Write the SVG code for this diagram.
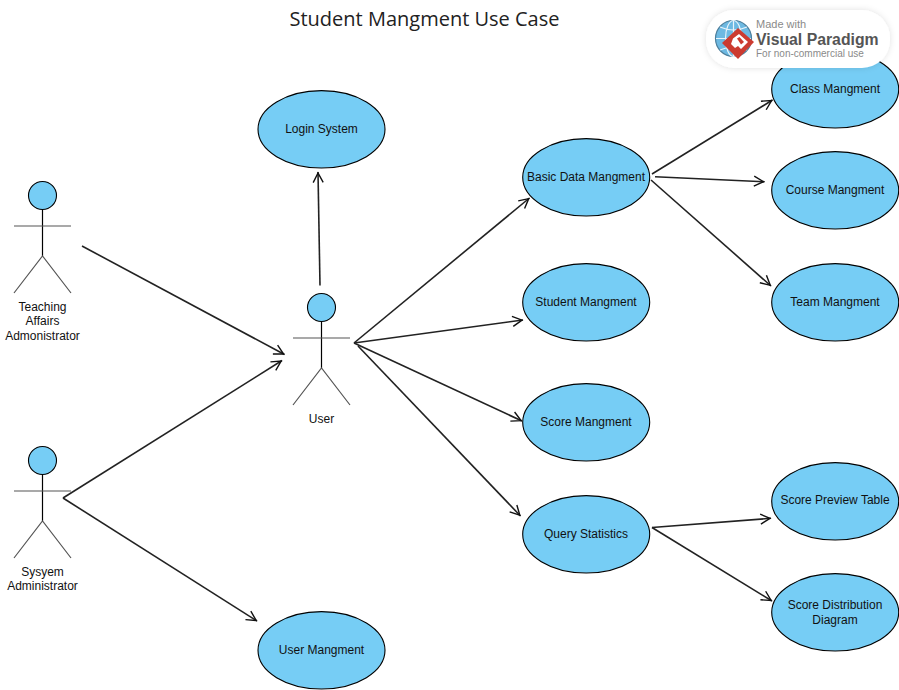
<svg xmlns="http://www.w3.org/2000/svg" width="899" height="690" viewBox="0 0 899 690">
<style>
text{font-family:"Liberation Sans",Arial,sans-serif;font-size:12px;fill:#111;text-anchor:middle}
.uc{fill:#76cdf5;stroke:#000;stroke-width:1.1}
.head{fill:#76cdf5;stroke:#000;stroke-width:1.1}
.blk{stroke:#000;stroke-width:1.2;fill:none}
.gry{stroke:#555;stroke-width:1.2;fill:none}
.c{stroke:#222;stroke-width:1.6;fill:none;marker-end:url(#a)}
.title{font-family:"Open Sans","Noto Sans",sans-serif;font-size:20px;fill:#222}
.lg{fill:#8a8a8a;text-anchor:start}
</style>
<defs>
<marker id="a" markerUnits="userSpaceOnUse" markerWidth="16" markerHeight="16" refX="13" refY="8" orient="auto"><path d="M2.500 3L12 8L2.500 13" fill="none" stroke="#111" stroke-width="1.400"/></marker>
<filter id="s" x="-10%" y="-30%" width="120%" height="160%"><feDropShadow dx="0" dy="0" stdDeviation="3" flood-color="#000" flood-opacity="0.12"/></filter>
</defs>
<rect width="899" height="690" fill="#fff"/>
<text class="title" x="424.500" y="26">Student Mangment Use Case</text>
<g id="connectors">
<path class="c" d="M82 246L284.500 354.500"/>
<path class="c" d="M63 498L282 360.500"/>
<path class="c" d="M63 498L257 621"/>
<path class="c" d="M320 285.500L318 172"/>
<path class="c" d="M354 343L529.500 198"/>
<path class="c" d="M354 343L523 320"/>
<path class="c" d="M354 343L522 421"/>
<path class="c" d="M358 346L520.500 516"/>
<path class="c" d="M652 174L772.500 100"/>
<path class="c" d="M655 176.700L764.500 181.700"/>
<path class="c" d="M651 180L771 286"/>
<path class="c" d="M652 527.500L771 518.300"/>
<path class="c" d="M652 527.500L772 601"/>
</g>
<g id="actor-teaching"><circle class="head" cx="42.500" cy="195.500" r="14"/><path class="blk" d="M42.500 209.500V256"/><path class="gry" d="M14 226H71M14 293L42.500 256L71 293"/><text x="42.500" y="311">Teaching</text><text x="42.500" y="325">Affairs</text><text x="42.500" y="340">Admonistrator</text></g>
<g id="actor-system"><circle class="head" cx="42.500" cy="460.500" r="14"/><path class="blk" d="M42.500 474.500V521"/><path class="gry" d="M14 491H71M14 558L42.500 521L71 558"/><text x="42.500" y="576">Sysyem</text><text x="42.500" y="590">Administrator</text></g>
<g id="actor-user"><circle class="head" cx="321.500" cy="307.500" r="14"/><path class="blk" d="M321.500 321.500V368"/><path class="gry" d="M293 338H350M293 405L321.500 368L350 405"/><text x="321.500" y="423">User</text></g>
<g id="login"><ellipse class="uc" cx="321.500" cy="129.300" rx="63.500" ry="38.700"/><text x="321.500" y="133">Login System</text></g>
<g id="user-mangment"><ellipse class="uc" cx="321.500" cy="650.300" rx="63.500" ry="38.700"/><text x="321.500" y="654">User Mangment</text></g>
<g id="basic"><ellipse class="uc" cx="586.200" cy="177.300" rx="63.500" ry="38.700"/><text x="586" y="181">Basic Data Mangment</text></g>
<g id="student"><ellipse class="uc" cx="586.200" cy="302.300" rx="63.500" ry="38.700"/><text x="586" y="306">Student Mangment</text></g>
<g id="score"><ellipse class="uc" cx="586.200" cy="422.300" rx="63.500" ry="38.700"/><text x="586" y="426">Score Mangment</text></g>
<g id="query"><ellipse class="uc" cx="586.200" cy="534.300" rx="63.500" ry="38.700"/><text x="586" y="538">Query Statistics</text></g>
<g id="class"><ellipse class="uc" cx="835.200" cy="89.300" rx="63.500" ry="38.700"/><text x="835" y="93">Class Mangment</text></g>
<g id="course"><ellipse class="uc" cx="835.200" cy="190.300" rx="63.500" ry="38.700"/><text x="835" y="194">Course Mangment</text></g>
<g id="team"><ellipse class="uc" cx="835.200" cy="302.300" rx="63.500" ry="38.700"/><text x="835" y="306">Team Mangment</text></g>
<g id="preview"><ellipse class="uc" cx="835.200" cy="501.300" rx="63.500" ry="38.700"/><text x="835" y="504">Score Preview Table</text></g>
<g id="distribution"><ellipse class="uc" cx="835.200" cy="612.300" rx="63.500" ry="38.700"/><text x="835" y="609">Score Distribution</text><text x="835" y="624">Diagram</text></g>
<g id="logo">
<rect x="706" y="10" width="184" height="58" rx="28" fill="#fff" filter="url(#s)"/>
<circle cx="733.500" cy="38.500" r="18" fill="#6db9e2" stroke="#4d7f9c" stroke-width="1.200"/>
<path d="M716 38.500H751M733.500 21V56M720 27Q733.500 33 747 27M720 50Q733.500 44 747 50" stroke="#e8f4fb" stroke-width="1.200" fill="none"/>
<ellipse cx="733.500" cy="38.500" rx="8" ry="18" fill="none" stroke="#e8f4fb" stroke-width="1.200"/>
<path d="M738 28L754 42L738 59L725 46L722 43Z" fill="#cc3b30"/>
<path d="M733 38.500L739 34L748 42L741 49L738 46L735 48L731 44Z" fill="#fff"/>
<path d="M737 38.500L739.500 37L744 42L741 44.500Z" fill="#cc3b30"/>
<text class="lg" x="756" y="28" style="font-size:11px">Made with</text>
<text x="756" y="45" style="font-size:15.800px;font-weight:bold;fill:#555;text-anchor:start">Visual Paradigm</text>
<text class="lg" x="756" y="57" style="font-size:10px">For non-commercial use</text>
</g>
</svg>
